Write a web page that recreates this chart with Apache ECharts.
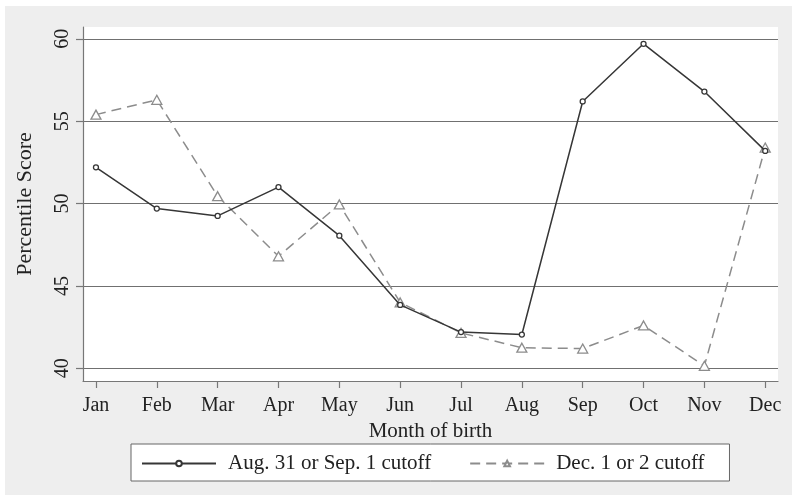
<!DOCTYPE html>
<html>
<head>
<meta charset="utf-8">
<script src="https://cdn.jsdelivr.net/npm/echarts@6/dist/echarts.min.js"></script>
<style>
  html, body { margin: 0; padding: 0; background: #ffffff; }
  #chart { position: absolute; left: 5px; top: 6px; width: 787px; height: 489px; }
</style>
</head>
<body>
<div id="chart"></div>
<script>
// Month numbers and their labels
const monthNums = [1, 2, 3, 4, 5, 6, 7, 8, 9, 10, 11, 12];
const monthLabels = ['Jan', 'Feb', 'Mar', 'Apr', 'May', 'Jun', 'Jul', 'Aug', 'Sep', 'Oct', 'Nov', 'Dec'];

// Mean percentile score by month of birth, per school-entry cutoff
const augSepCutoff = [52.2, 49.7, 49.25, 51.0, 48.05, 43.85, 42.2, 42.05, 56.2, 59.7, 56.8, 53.2];
const decCutoff    = [55.4, 56.3, 50.45, 46.8, 49.95, 44.0, 42.15, 41.25, 41.2, 42.6, 40.15, 53.4];

// Y tick values
const yTicks = [40, 45, 50, 55, 60];

const serif = "'Liberation Serif', 'Times New Roman', serif";

const pair = (xs, ys) => xs.map((x, i) => [x, ys[i]]);

const chart = echarts.init(document.getElementById('chart'));
chart.setOption({
  backgroundColor: '#eeeeee',
  animation: false,
  textStyle: { fontFamily: serif },
  grid: {
    left: 78, right: 14, top: 21, bottom: 114,
    show: true, backgroundColor: '#ffffff', borderWidth: 0
  },
  xAxis: {
    type: 'value',
    min: 0.787, max: 12.21,
    name: 'Month of birth',
    nameLocation: 'middle',
    nameGap: 40,
    nameTextStyle: { fontFamily: serif, fontSize: 21, color: '#222' },
    axisLine: { show: true, lineStyle: { color: '#777', width: 1.2 } },
    axisTick: { show: true, length: 7, customValues: monthNums, lineStyle: { color: '#777', width: 1.2 } },
    axisLabel: {
      customValues: monthNums,
      margin: 15,
      fontFamily: serif, fontSize: 20, color: '#222',
      formatter: v => monthLabels[Math.round(v) - 1]
    },
    splitLine: { show: false }
  },
  yAxis: {
    type: 'value',
    min: 39.23, max: 60.72,
    name: 'Percentile Score',
    nameLocation: 'middle',
    nameGap: 47,
    nameTextStyle: { fontFamily: serif, fontSize: 22, color: '#222' },
    axisLine: { show: true, lineStyle: { color: '#777', width: 1.2 } },
    axisTick: { show: true, length: 7, customValues: yTicks, lineStyle: { color: '#777', width: 1.2 } },
    axisLabel: {
      customValues: yTicks,
      rotate: 90,
      margin: 10,
      fontFamily: serif, fontSize: 20, color: '#222'
    },
    splitLine: { show: true, lineStyle: { color: '#707070', width: 1.2 } }
  },
  legend: {
    left: 126,
    top: 438,
    orient: 'horizontal',
    padding: [9, 25, 7, 10],
    itemWidth: 74,
    itemHeight: 7,
    itemGap: 38,
    borderColor: '#666',
    borderWidth: 1,
    borderRadius: 0,
    backgroundColor: '#ffffff',
    textStyle: { fontFamily: serif, fontSize: 21, color: '#222', padding: [0, 0, 0, 7] },
    data: ['Aug. 31 or Sep. 1 cutoff', 'Dec. 1 or 2 cutoff']
  },
  series: [
    {
      name: 'Aug. 31 or Sep. 1 cutoff',
      type: 'line',
      data: pair(monthNums, augSepCutoff),
      symbol: 'circle',
      symbolSize: 5,
      showAllSymbol: true,
      lineStyle: { color: '#363636', width: 1.5, type: 'solid' },
      itemStyle: { color: '#ffffff', borderColor: '#363636', borderWidth: 1.3 },
      z: 3
    },
    {
      name: 'Dec. 1 or 2 cutoff',
      type: 'line',
      data: pair(monthNums, decCutoff),
      symbol: 'triangle',
      symbolSize: [10, 9],
      showAllSymbol: true,
      lineStyle: { color: '#8c8c8c', width: 1.5, type: [10, 6] },
      itemStyle: { color: '#ffffff', borderColor: '#8c8c8c', borderWidth: 1.3 },
      z: 2
    }
  ]
});
</script>
</body>
</html>
